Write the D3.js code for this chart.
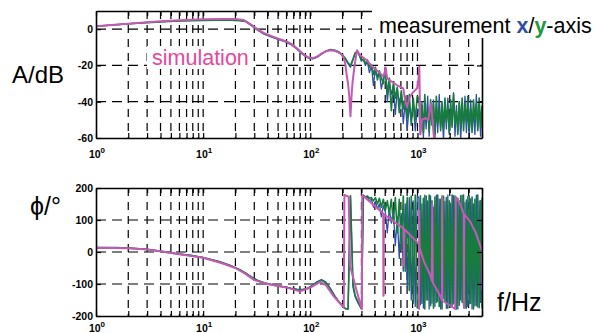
<!DOCTYPE html>
<html>
<head>
<meta charset="utf-8">
<script src="https://cdn.jsdelivr.net/npm/d3@7"></script>
<style>
  body { margin: 0; background: #fff; }
  svg { display: block; font-family: "Liberation Sans", Arial, Helvetica, sans-serif; }
</style>
</head>
<body>
<svg id="chart" width="593" height="333"></svg>
<script>
// ---- data ----
// frequency ticks (Hz) and labelled decades
var freqTicks = [1,2,3,4,5,6,7,8,9,10,20,30,40,50,60,70,80,90,100,200,300,400,500,600,700,800,900,1000,2000,3000,4000];
var decades = [0, 1, 2, 3];
var ampTicks = [-60, -40, -20, 0];
var ampGrid = [-40, -20, 0];
var phaseTicks = [-200, -100, 0, 100, 200];
var phaseGrid = [-100, 0, 100];

// simulation amplitude (dB)
var simAmpFreq = [1,1.5,2,3,4,6,10,15,20,24,28,32,37,43,50,58,66,75,85,95,106,115,127,140,154,170,185,196,205,212,218,225,231,237,243,248,254,262,273,285,300,335,370,415,450,479,492,505,520,560,641,700,737,766,797,840,900,993,1020,1040,1064,1100,1180,1260,1300,1340,1420,1500,1800,2500,4000];
var simAmp = [1.6,2.4,3.0,3.8,4.3,4.9,5.4,5.6,5.6,5.0,2.5,0,-2.2,-3.8,-5.2,-6.5,-8.0,-10.5,-13.5,-15.5,-16,-15.2,-13.5,-12.2,-11.6,-12,-13,-14,-16,-19,-25,-30,-37,-48,-36,-29,-24,-18,-11.6,-13.5,-15,-17,-20,-22.6,-24.5,-26,-25,-21.3,-27,-28.5,-30.8,-32,-32.6,-39,-42.8,-38,-35,-32.6,-28,-20.7,-58,-50,-49,-50,-45,-41,-59,-66,-72,-75,-75];

// simulation phase (deg)
var simPhaseFreq = [1,2,3,4,6,10,15,20,25,30,40,60,80,100,124,141,164,190,205,208,228,235,240,270,303,305,479,481,483,485,745,747,749,751,993,1030,1035,1040,1045,1150,1322,1360,1375,1390,1627,1690,1700,1710,2033,2250,2283,2500,2700,2715,2730,3100,3500,3990,4000];
var simPhase = [13,12,8,2,-7,-18,-35,-50,-69,-88,-100,-111,-123,-111,-93,-105,-137,-161,-174,178,173,-43,-55,-120,-179,178,120,-137,-137,118,73,-43,-43,72,31,25,-178,130,15,-30,-74,-90,150,-95,-137,-150,175,-152,-168,-178,172,150,120,-175,118,95,60,5,-120];

// measurement frequencies (Hz)
var measFreq = [1,1.5,2,3,4,6,8,10,14,18,22,25,28,32,37,43,50,58,66,75,85,95,105,115,127,140,155,170,185,200,212,225,237,250,262,275,288,300,
  313,327,341,356,372,388,405,423,441,460,480,501,523,546,570,595,621,648,676,706,737,769,803,838,875,913,953,995,
  1030,1065,1100,1135,1170,1205,1245,1285,1325,1365,1410,1455,1500,1545,1595,1645,1695,1750,1805,1860,1920,1980,2040,2105,2170,2240,2310,2380,2455,2530,2610,2690,2775,2860,2950,3040,3135,3230,3330,3435,3540,3650,3765,3880,4000];

// measurement amplitude, x-axis (blue) and y-axis (green), dB
var ampX = [1.5,2.3,2.9,3.7,4.1,4.6,4.9,5.0,5.1,5.1,4.8,4.2,2.0,-0.5,-2.8,-4.3,-5.6,-6.9,-8.5,-11,-14,-15.8,-16.4,-15.6,-13.8,-12.2,-11.3,-11.8,-12.8,-14.5,-16.5,-19,-21,-17,-13.5,-12.2,-14.5,-17,
  -17,-20,-18,-24,-20,-31,-22,-26,-24,-33,-27,-22,-40,-29,-36,-31,-47,-33,-41,-35,-52,-40,-55,-42,-50,-40,-56,-44,
  -45,-58,-40,-60,-42,-55,-37,-59,-44,-52,-39,-60,-43,-57,-36,-54,-46,-61,-41,-55,-38,-58,-45,-53,-35,-59,-42,-56,-40,-61,-44,-52,-37,-57,-43,-60,-39,-54,-46,-58,-36,-55,-41,-59,-44];
var ampY = [1.6,2.4,3.0,3.6,4.0,4.5,4.7,4.8,4.9,4.9,4.7,4.3,2.3,-0.2,-2.4,-4.0,-5.3,-6.6,-8.2,-10.8,-13.8,-15.6,-16.2,-15.4,-13.6,-12.0,-11.2,-11.6,-12.6,-14.2,-16,-18.5,-20,-16.5,-13,-12.4,-14.8,-17.5,
  -16.5,-19,-17,-21,-19.5,-25,-21,-28,-23,-27,-30,-21,-36,-27,-45,-30,-38,-32,-46,-34,-44,-37,-49,-36,-53,-38,-50,-37,
  -38,-54,-42,-57,-36,-50,-45,-56,-39,-53,-41,-58,-37,-52,-44,-56,-40,-55,-38,-51,-43,-57,-39,-54,-36,-52,-45,-58,-40,-53,-38,-56,-42,-51,-37,-55,-44,-57,-39,-50,-41,-56,-38,-54,-42];

// measurement phase, deg
var phaseX = [14,14,13,9,3,-6,-11,-17,-29,-42,-55,-66,-77,-88,-96,-101,-105,-109,-113,-116,-117,-112,-103,-93,-86,-94,-115,-138,-155,-166,-176,-179,172,-110,-140,-155,-168,-178,
  176,170,172,160,165,140,158,135,150,110,145,125,60,135,90,130,20,110,-20,120,-60,150,-110,170,-150,160,-170,175,
  170,-165,150,-175,178,-150,160,-178,175,-160,140,-170,178,-155,165,-178,172,-145,158,-176,178,-165,150,-172,176,-158,168,-178,160,-150,178,-170,155,-176,174,-162,166,-178,150,-168,178,-172,160,-158,170];
var phaseY = [13,13,12,8,2,-7,-12,-18,-30,-43,-56,-67,-78,-89,-97,-102,-106,-110,-114,-117,-118,-114,-105,-95,-88,-96,-117,-140,-157,-168,-177,-178,176,-100,-135,-152,-166,-177,
  178,172,175,168,170,160,170,150,168,140,165,130,160,120,165,95,170,60,165,10,175,-60,170,-120,175,-160,178,-175,
  -172,176,-160,168,-178,175,-150,178,-168,160,-176,172,-158,178,-170,165,-178,174,-155,170,-176,160,-172,178,-162,175,-178,168,-166,176,-158,178,-175,162,-170,176,-160,172,-178,165,-168,178,-174,160,-176];

// ---- layout ----
var svg = d3.select("#chart");
var plotLeft = 96, plotRight = 482;
var blue = "#2d4fa5", green = "#177c3e", magenta = "#c45ab3";

var xScale = d3.scaleLog().domain([1, 4000]).range([plotLeft, plotRight]);
var ampScale = d3.scaleLinear().domain([-60, 10]).range([138, 11]);
var phaseScale = d3.scaleLinear().domain([-200, 200]).range([316, 188]);

function drawPanel(id, yScale, ticks, gridVals, series, labelY) {
  var bottom = yScale.range()[0], top = yScale.range()[1];
  var g = svg.append("g").attr("class", id);

  g.append("clipPath").attr("id", id + "-clip")
    .append("rect")
    .attr("x", plotLeft).attr("y", top)
    .attr("width", plotRight - plotLeft).attr("height", bottom - top);

  // dashed grid
  g.selectAll(".vgrid")
    .data(freqTicks.filter(f => f > 1 && f < 4000))
    .enter().append("line")
    .attr("x1", d => xScale(d)).attr("x2", d => xScale(d))
    .attr("y1", top).attr("y2", bottom)
    .attr("stroke", "#000").attr("stroke-width", 1.2)
    .attr("stroke-dasharray", "8,6");
  g.selectAll(".hgrid")
    .data(gridVals)
    .enter().append("line")
    .attr("x1", plotLeft).attr("x2", plotRight)
    .attr("y1", d => yScale(d)).attr("y2", d => yScale(d))
    .attr("stroke", "#000").attr("stroke-width", 1.2)
    .attr("stroke-dasharray", "10,6");

  // curves
  var lines = g.append("g").attr("clip-path", "url(#" + id + "-clip)");
  series.forEach(function(s) {
    var line = d3.line()
      .x((d, i) => xScale(s.freq[i]))
      .y(d => yScale(d));
    lines.append("path")
      .datum(s.values)
      .attr("d", line)
      .attr("fill", "none")
      .attr("stroke", s.color)
      .attr("stroke-width", s.width)
      .attr("stroke-linejoin", "round");
  });

  // box + inward ticks
  var axB = g.append("g").attr("transform", "translate(0," + bottom + ")")
    .call(d3.axisBottom(xScale).tickValues(freqTicks).tickSize(-5).tickSizeOuter(0).tickFormat(""));
  var axT = g.append("g").attr("transform", "translate(0," + top + ")")
    .call(d3.axisTop(xScale).tickValues(freqTicks).tickSize(-5).tickSizeOuter(0).tickFormat(""));
  var axL = g.append("g").attr("transform", "translate(" + plotLeft + ",0)")
    .call(d3.axisLeft(yScale).tickValues(ticks).tickSize(-5).tickSizeOuter(0).tickPadding(3).tickFormat(d => String(d)));
  var axR = g.append("g").attr("transform", "translate(" + plotRight + ",0)")
    .call(d3.axisRight(yScale).tickValues(ticks).tickSize(-5).tickSizeOuter(0).tickFormat(""));
  [axB, axT, axL, axR].forEach(function(a) {
    a.select(".domain").attr("stroke", "#000").attr("stroke-width", 1.6);
    a.selectAll(".tick line").attr("stroke", "#000").attr("stroke-width", 1.2);
  });
  axL.selectAll("text")
    .attr("font-family", null)
    .attr("font-size", "10.5px")
    .attr("font-weight", "bold")
    .attr("fill", "#000");

  // decade labels 10^k
  var lab = g.selectAll(".dec")
    .data(decades)
    .enter().append("text")
    .attr("x", d => xScale(Math.pow(10, d)) + 1)
    .attr("y", labelY)
    .attr("text-anchor", "middle")
    .attr("font-size", "10.5px")
    .attr("font-weight", "bold");
  lab.append("tspan").text("10");
  lab.append("tspan").attr("dy", -5).attr("font-size", "8px").text(d => d);
}

// amplitude panel
drawPanel("amp", ampScale, ampTicks, ampGrid, [
  {freq: measFreq, values: ampX, color: blue, width: 1.3},
  {freq: measFreq, values: ampY, color: green, width: 1.6},
  {freq: simAmpFreq, values: simAmp, color: magenta, width: 2}
], 158);

// phase panel
drawPanel("phase", phaseScale, phaseTicks, phaseGrid, [
  {freq: measFreq, values: phaseX, color: blue, width: 1.3},
  {freq: measFreq, values: phaseY, color: green, width: 1.6},
  {freq: simPhaseFreq, values: simPhase, color: magenta, width: 2}
], 332);

// axis titles
svg.append("text").attr("x", 12).attr("y", 83).attr("font-size", "24px").text("A/dB");
svg.append("text").attr("x", 30).attr("y", 215).attr("font-size", "25px").text("\u03d5/\u00b0");
svg.append("text").attr("x", 497).attr("y", 311).attr("font-size", "25px").text("f/Hz");

// legend labels
svg.append("rect").attr("x", 147).attr("y", 46).attr("width", 106).attr("height", 23).attr("fill", "#fff");
svg.append("text").attr("x", 152).attr("y", 65).attr("font-size", "21.5px")
  .attr("fill", "#e6489a").text("simulation");

svg.append("rect").attr("x", 372).attr("y", 0).attr("width", 221).attr("height", 38).attr("fill", "#fff");
var meas = svg.append("text").attr("x", 379).attr("y", 33).attr("font-size", "21.5px").attr("fill", "#000");
meas.append("tspan").text("measurement ");
meas.append("tspan").attr("fill", blue).attr("font-weight", "bold").text("x");
meas.append("tspan").text("/");
meas.append("tspan").attr("fill", "#1f9a3c").attr("font-weight", "bold").text("y");
meas.append("tspan").text("-axis");
</script>
</body>
</html>
